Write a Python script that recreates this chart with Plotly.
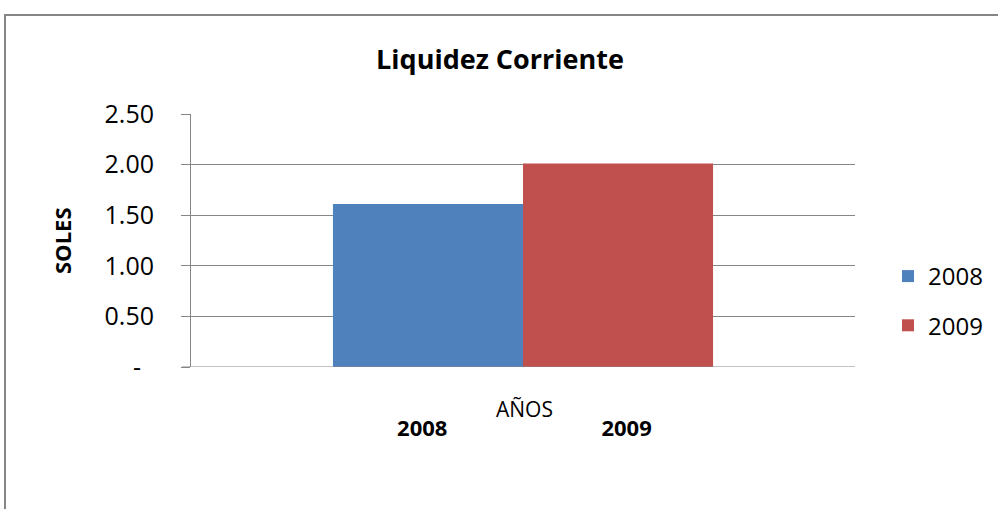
import plotly.graph_objects as go

years = ["2008", "2009"]
values = [1.61, 2.01]
colors = ["#4F81BD", "#C0504D"]
y_tickvals = [0, 0.5, 1.0, 1.5, 2.0, 2.5]
y_ticktext = ["-\u00a0\u00a0", "0.50", "1.00", "1.50", "2.00", "2.50"]
x_ticktext = ["<b>2008</b>\u00a0\u00a0", "\u00a0\u00a0\u00a0<b>2009</b>"]

FONT = "Open Sans"
GRAY = "#868686"

fig = go.Figure()
for yr, v, c in zip(years, values, colors):
    fig.add_trace(go.Bar(
        x=[yr], y=[v], name=yr, width=1.0,
        marker=dict(color=c, line=dict(width=0)),
        legendgroup=yr,
    ))

fig.update_layout(
    width=998, height=509,
    margin=dict(l=191, r=143, t=114, b=142),
    paper_bgcolor="white", plot_bgcolor="white",
    barmode="overlay",
    showlegend=True,
    title=dict(text="<b>Liquidez Corriente</b>", x=500 / 998, xanchor="center", xref="container",
               y=1 - 60 / 509, yanchor="middle", yref="container",
               font=dict(family=FONT, size=27, color="black")),
    legend=dict(x=888 / 998, xref="container", y=1 - 254 / 509, yref="container",
                xanchor="left", yanchor="top",
                font=dict(family=FONT, size=24, color="black"),
                tracegroupgap=15, itemwidth=30, bgcolor="rgba(0,0,0,0)"),
    xaxis=dict(
        type="category", range=[-1.247, 2.247],
        showgrid=False, showline=False, ticks="",
        tickfont=dict(family=FONT, size=22, color="black"),
        ticktext=x_ticktext, tickvals=years,
        ticklabelstandoff=46,
        zeroline=False,
    ),
    yaxis=dict(
        range=[0, 2.5], tickvals=y_tickvals, ticktext=y_ticktext,
        showgrid=True, gridcolor=GRAY, gridwidth=1,
        showline=True, linecolor=GRAY, linewidth=1,
        ticks="outside", ticklen=9, tickcolor=GRAY,
        tickfont=dict(family=FONT, size=25, color="black"),
        ticklabelstandoff=22,
        zeroline=False,
    ),
)

# bottom axis baseline
fig.add_shape(type="line", xref="paper", yref="y", x0=-9 / 664, x1=1, y0=0, y1=0,
              line=dict(color=GRAY, width=1))

# chart border
fig.add_shape(type="rect", xref="paper", yref="paper",
              x0=(5 - 191) / 664, x1=1.4, y0=-0.8, y1=(367 - 15) / 253,
              line=dict(color=GRAY, width=2), fillcolor="rgba(0,0,0,0)", layer="below")

fig.add_annotation(text="AÑOS", xref="paper", yref="paper",
                   x=(524 - 191) / 664, y=(367 - 409) / 253, showarrow=False,
                   xanchor="center", yanchor="middle",
                   font=dict(family=FONT, size=21, color="black"))

fig.add_annotation(text="<b>SOLES</b>", xref="paper", yref="paper", textangle=-90,
                   x=(62 - 191) / 664, y=(367 - 241) / 253, showarrow=False,
                   xanchor="center", yanchor="middle",
                   font=dict(family=FONT, size=22, color="black"))

fig.write_html("out.html", config={"displayModeBar": False},
               post_script="document.body.style.margin='0';")
